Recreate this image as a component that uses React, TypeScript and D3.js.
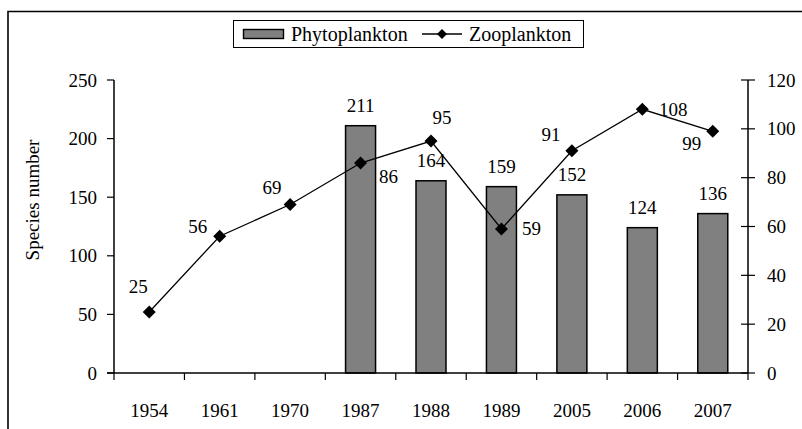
import React from "react";
import * as d3 from "d3";

const years = ["1954", "1961", "1970", "1987", "1988", "1989", "2005", "2006", "2007"];
const phytoplankton: (number | null)[] = [null, null, null, 211, 164, 159, 152, 124, 136];
const zooplankton = [25, 56, 69, 86, 95, 59, 91, 108, 99];
const leftTicks = [0, 50, 100, 150, 200, 250];
const rightTicks = [0, 20, 40, 60, 80, 100, 120];
// label placement offsets (dx, dy) for zooplankton point labels
const zooLabelOffsets: [number, number][] = [
  [-11, -25], [-22, -10], [-18, -17], [28, 13], [11, -24], [30, 0], [-21, -16], [31, 0], [-21, 12],
];

const W = 802;
const H = 429;
const FONT = "'Liberation Serif', 'Times New Roman', serif";
const FS = 19;

export default function App() {
  const left = 114, right = 748, top = 80, bottom = 373;
  const x = d3.scaleBand<string>().domain(years).range([left, right]).paddingInner(0).paddingOuter(0);
  const yL = d3.scaleLinear().domain([0, 250]).range([bottom, top]);
  const yR = d3.scaleLinear().domain([0, 120]).range([bottom, top]);
  const barW = 30;
  const cx = (y: string) => (x(y) as number) + x.bandwidth() / 2;
  const line = d3
    .line<number>()
    .x((_, i) => cx(years[i]))
    .y((d) => yR(d));
  const diamond = (px: number, py: number, r = 6.5) =>
    `M${px},${py - r}L${px + r},${py}L${px},${py + r}L${px - r},${py}Z`;

  return (
    <svg width={W} height={H} style={{ position: "absolute", left: 0, top: 0, background: "#fff" }}
      fontFamily={FONT} fontSize={FS}>
      <rect x={0} y={0} width={W} height={H} fill="#fff" />
      {/* outer frame */}
      <path d={`M8,${H + 2}V11.5H${W + 2}`} fill="none" stroke="#000" strokeWidth={1.6} />

      {/* legend */}
      <rect x={233.5} y={20.5} width={350} height={27} fill="#fff" stroke="#000" strokeWidth={1} />
      <rect x={243.5} y={29.5} width={40} height={9} fill="#808080" stroke="#000" strokeWidth={1.4} />
      <text x={291} y={34} dominantBaseline="central" fontSize={20}>Phytoplankton</text>
      <line x1={422} x2={462} y1={34} y2={34} stroke="#000" strokeWidth={1.3} />
      <path d={diamond(442, 34, 5)} fill="#000" />
      <text x={469} y={34} dominantBaseline="central" fontSize={20}>Zooplankton</text>

      {/* bars */}
      {years.map((yr, i) => {
        const v = phytoplankton[i];
        if (v == null) return null;
        return (
          <g key={yr}>
            <rect x={cx(yr) - barW / 2} y={yL(v)} width={barW} height={bottom - yL(v)}
              fill="#808080" stroke="#000" strokeWidth={1.5} />
            <text x={cx(yr)} y={yL(v) - 20} textAnchor="middle" dominantBaseline="central">{v}</text>
          </g>
        );
      })}

      {/* axes */}
      <line x1={left} x2={left} y1={top} y2={bottom} stroke="#000" strokeWidth={1.5} />
      <line x1={right} x2={right} y1={top} y2={bottom} stroke="#000" strokeWidth={1.5} />
      <line x1={left - 7} x2={right} y1={bottom} y2={bottom} stroke="#000" strokeWidth={1.5} />
      {leftTicks.map((t) => (
        <g key={"l" + t}>
          <line x1={left - 7} x2={left} y1={yL(t)} y2={yL(t)} stroke="#000" strokeWidth={1.2} />
          <text x={97} y={yL(t)} textAnchor="end" dominantBaseline="central">{t}</text>
        </g>
      ))}
      {rightTicks.map((t) => (
        <g key={"r" + t}>
          <line x1={right - 7} x2={right + 7} y1={yR(t)} y2={yR(t)} stroke="#000" strokeWidth={1.2} />
          <text x={767} y={yR(t)} textAnchor="start" dominantBaseline="central">{t}</text>
        </g>
      ))}
      {[...years.map((yr) => x(yr) as number), right].map((px, i) => (
        <line key={"xt" + i} x1={px} x2={px} y1={bottom} y2={bottom + 7} stroke="#000" strokeWidth={1.2} />
      ))}
      {years.map((yr) => (
        <text key={"xl" + yr} x={cx(yr)} y={410} textAnchor="middle" dominantBaseline="central">{yr}</text>
      ))}
      <text transform={`translate(32,200) rotate(-90)`} textAnchor="middle" dominantBaseline="central">
        Species number
      </text>

      {/* zooplankton line */}
      <path d={line(zooplankton) ?? ""} fill="none" stroke="#000" strokeWidth={1.3} />
      {zooplankton.map((v, i) => (
        <g key={"z" + i}>
          <path d={diamond(cx(years[i]), yR(v))} fill="#000" />
          <text x={cx(years[i]) + zooLabelOffsets[i][0]} y={yR(v) + zooLabelOffsets[i][1]}
            textAnchor="middle" dominantBaseline="central">{v}</text>
        </g>
      ))}
    </svg>
  );
}
